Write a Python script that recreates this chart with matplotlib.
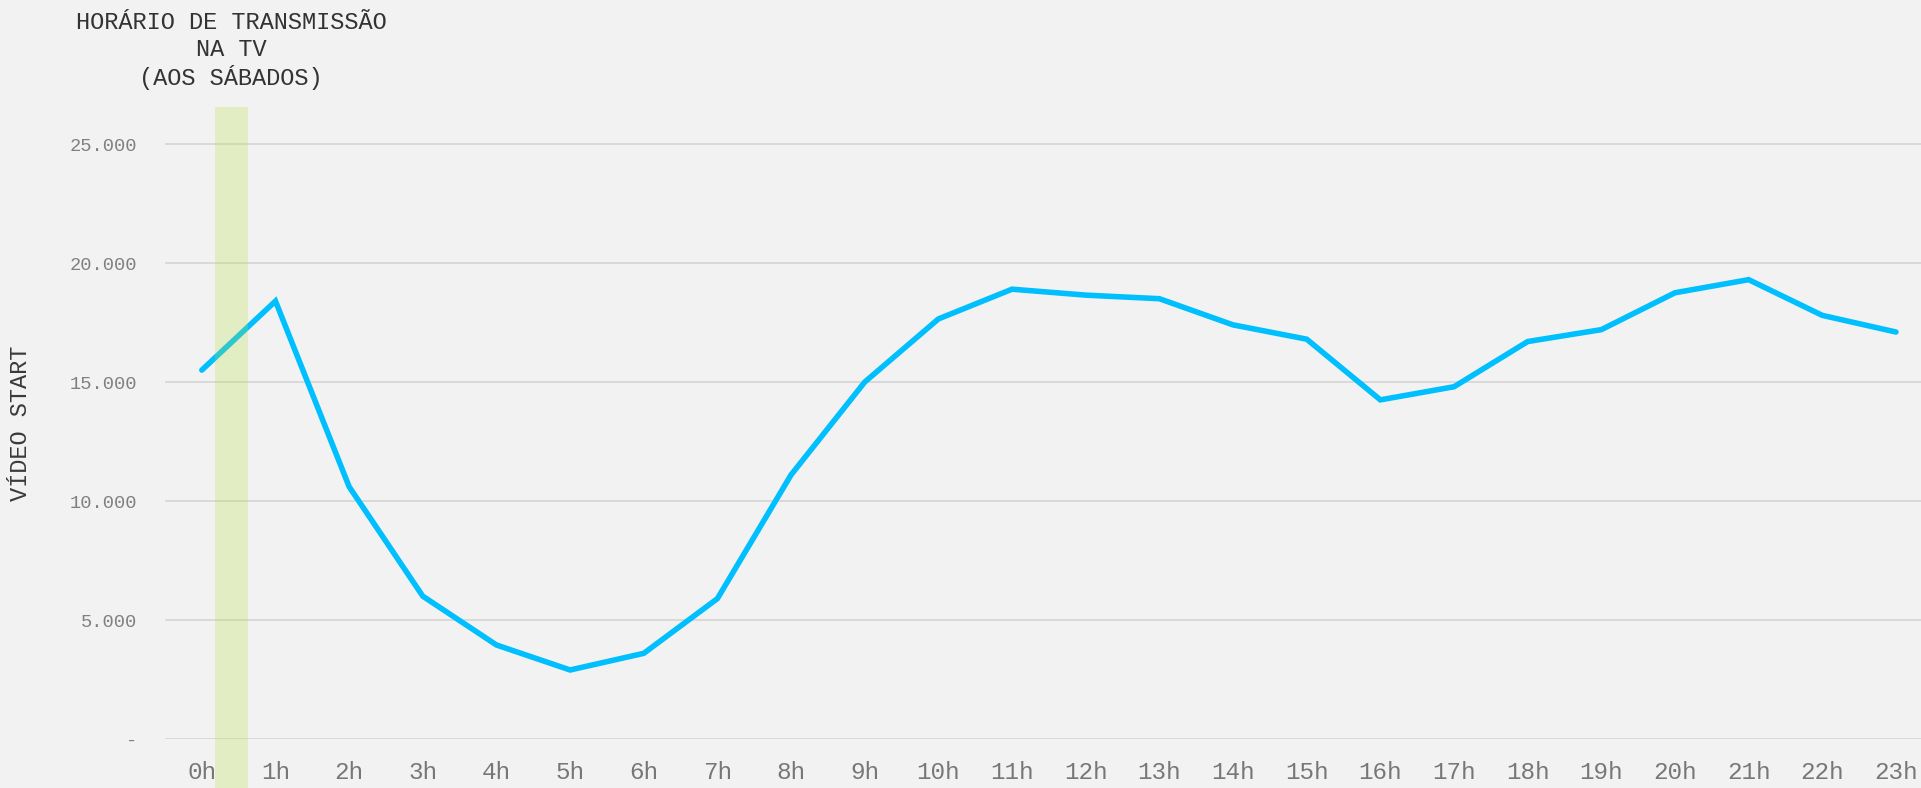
import numpy as np
from matplotlib import pyplot as plt

hours = [f"{h}h" for h in range(24)]
video_start = [15500, 18400, 10600, 6000, 3950, 2900, 3600, 5900, 11100, 15000,
               17650, 18900, 18650, 18500, 17400, 16800, 14250, 14800, 16700, 17200,
               18750, 19300, 17800, 17100]
y_ticks = [0, 5000, 10000, 15000, 20000, 25000]
y_tick_labels = ["-", "5.000", "10.000", "15.000", "20.000", "25.000"]
tv_slot = (0.18, 0.63)  # horario de transmissao na TV

W, H = 1921, 788
bg = "#f2f2f2"
mono = "Liberation Mono"

fig = plt.figure(figsize=(W / 100, H / 100), dpi=100, facecolor=bg)
# axes placed in pixel terms: left 165, right 1921, bottom 739, top 107
ax = fig.add_axes([165 / W, (H - 739) / H, (W - 165) / W, (739 - 107) / H])
ax.set_facecolor(bg)

x = np.arange(len(hours))
ax.plot(x, video_start, color="#00bfff", lw=4, solid_capstyle="round",
        solid_joinstyle="miter", zorder=3)

# faixa verde por cima da linha
ax.axvspan(tv_slot[0], tv_slot[1], ymin=-0.08, ymax=1, color="#b9e238",
           alpha=0.25, lw=0, clip_on=False, zorder=4)

ax.set_xlim(-0.5, 23.34)
ax.set_ylim(0, 26555)
ax.set_yticks(y_ticks)
ax.set_yticklabels(y_tick_labels)
ax.set_xticks(x)
ax.set_xticklabels(hours)

for y in y_ticks:
    ax.axhline(y, color="#d9d9d9", lw=1.4, zorder=1)

for s in ax.spines.values():
    s.set_visible(False)
ax.tick_params(axis="both", length=0)
ax.tick_params(axis="y", pad=20, labelsize=13.5, labelcolor="#808080")
ax.tick_params(axis="x", pad=16, labelsize=17.5, labelcolor="#777777")
for lab in ax.get_xticklabels() + ax.get_yticklabels():
    lab.set_fontfamily(mono)

fig.text(21 / W, 1 - 423 / H, "VÍDEO START", rotation=90, ha="center",
         va="center", fontsize=17, color="#3a3a3a", family=mono)
fig.text(231 / W, 1 - 11 / H, "HORÁRIO DE TRANSMISSÃO\nNA TV\n(AOS SÁBADOS)",
         ha="center", va="top", fontsize=17, color="#333333", family=mono,
         linespacing=1.22)

fig.savefig("out.png", dpi=100, facecolor=bg)
